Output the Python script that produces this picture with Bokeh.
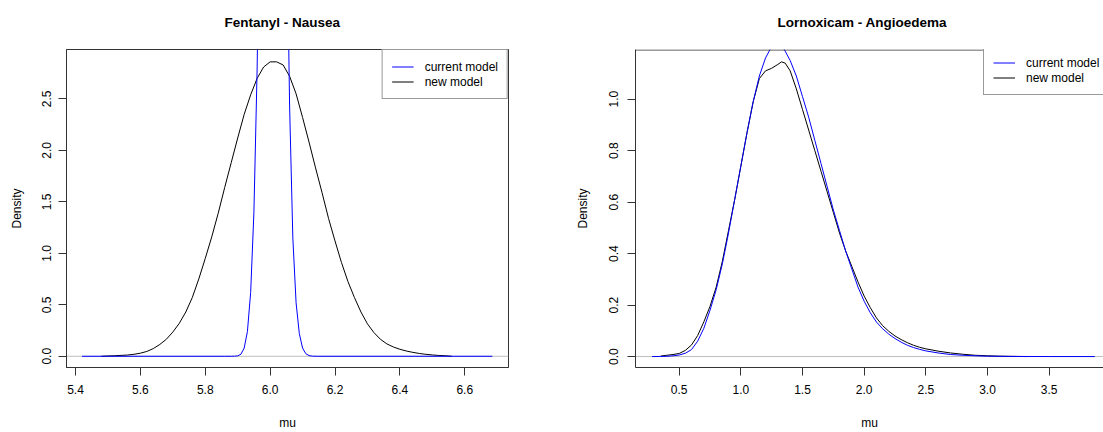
from bokeh.plotting import figure
from bokeh.layouts import row
from bokeh.models import Span, Legend, LegendItem, FixedTicker, Range1d
from bokeh.embed import file_html
from bokeh.resources import INLINE
from bokeh.core.properties import value

FONT = "Liberation Sans"

# ---------------- data: Fentanyl - Nausea ----------------
fent_title = "Fentanyl - Nausea"
fent_mu_new = [5.48, 5.50, 5.52, 5.56, 5.58, 5.60, 5.62, 5.64, 5.66, 5.68, 5.70, 5.72, 5.74, 5.76,
               5.78, 5.80, 5.82, 5.84, 5.86, 5.88, 5.90, 5.92, 5.94, 5.96, 5.98, 6.00, 6.02, 6.04,
               6.06, 6.08, 6.10, 6.12, 6.14, 6.16, 6.18, 6.20, 6.22, 6.24, 6.26, 6.28, 6.30, 6.32,
               6.34, 6.36, 6.38, 6.40, 6.42, 6.44, 6.46, 6.48, 6.50, 6.52, 6.54, 6.56]
fent_dens_new = [0.0, 0.003, 0.005, 0.012, 0.019, 0.030, 0.047, 0.075, 0.115, 0.165, 0.235, 0.32, 0.43, 0.57,
                 0.75, 0.95, 1.16, 1.39, 1.64, 1.88, 2.12, 2.35, 2.54, 2.70, 2.81, 2.86, 2.86, 2.83,
                 2.72, 2.55, 2.32, 2.08, 1.83, 1.59, 1.34, 1.12, 0.91, 0.725, 0.57, 0.43, 0.315, 0.23,
                 0.165, 0.12, 0.09, 0.068, 0.051, 0.038, 0.027, 0.019, 0.013, 0.008, 0.005, 0.0]
fent_mu_cur = [5.42, 5.86, 5.88, 5.89, 5.90, 5.91, 5.92, 5.93, 5.94, 5.95, 5.96, 5.97, 5.98, 5.99,
               6.00, 6.01, 6.02, 6.03, 6.04, 6.05, 6.06, 6.07, 6.08, 6.09, 6.10, 6.11, 6.12, 6.13,
               6.15, 6.685]
fent_dens_cur = [0.0, 0.0, 0.0001, 0.001, 0.004, 0.02, 0.08, 0.24, 0.62, 1.40, 2.80, 5.17, 8.30, 11.6,
                 14.1, 14.9, 13.7, 11.0, 7.6, 4.6, 2.44, 1.15, 0.52, 0.22, 0.08, 0.025, 0.007, 0.001,
                 0.0, 0.0]
fent_xticks = [5.4, 5.6, 5.8, 6.0, 6.2, 6.4, 6.6]
fent_xlabels = ["5.4", "5.6", "5.8", "6.0", "6.2", "6.4", "6.6"]
fent_yticks = [0.0, 0.5, 1.0, 1.5, 2.0, 2.5]
fent_ylabels = ["0.0", "0.5", "1.0", "1.5", "2.0", "2.5"]

# ---------------- data: Lornoxicam - Angioedema ----------------
lorn_title = "Lornoxicam - Angioedema"
lorn_mu_new = [0.35, 0.40, 0.45, 0.50, 0.55, 0.60, 0.65, 0.70, 0.75, 0.80, 0.85, 0.90, 0.95, 1.00,
               1.05, 1.10, 1.15, 1.20, 1.25, 1.30, 1.33, 1.36, 1.40, 1.45, 1.50, 1.55, 1.60, 1.65,
               1.70, 1.75, 1.80, 1.85, 1.90, 1.95, 2.00, 2.05, 2.10, 2.15, 2.20, 2.25, 2.30, 2.35,
               2.40, 2.45, 2.50, 2.60, 2.70, 2.80, 2.90, 3.00, 3.10, 3.20, 3.32]
lorn_dens_new = [0.002, 0.005, 0.008, 0.012, 0.024, 0.045, 0.082, 0.135, 0.195, 0.27, 0.37, 0.49, 0.61, 0.74,
                 0.87, 0.99, 1.08, 1.11, 1.12, 1.135, 1.145, 1.14, 1.11, 1.04, 0.96, 0.88, 0.80, 0.72,
                 0.64, 0.56, 0.48, 0.41, 0.35, 0.29, 0.235, 0.19, 0.15, 0.12, 0.098, 0.08, 0.066, 0.054,
                 0.044, 0.036, 0.03, 0.021, 0.014, 0.009, 0.005, 0.003, 0.0015, 0.0008, 0.0]
lorn_mu_cur = [0.28, 0.35, 0.40, 0.45, 0.50, 0.55, 0.60, 0.65, 0.70, 0.75, 0.80, 0.85, 0.90, 0.95,
               1.00, 1.05, 1.10, 1.15, 1.20, 1.25, 1.30, 1.35, 1.40, 1.45, 1.50, 1.55, 1.60, 1.65,
               1.70, 1.75, 1.80, 1.85, 1.90, 1.95, 2.00, 2.05, 2.10, 2.15, 2.20, 2.25, 2.30, 2.35,
               2.40, 2.45, 2.50, 2.60, 2.70, 2.80, 2.90, 3.00, 3.20, 3.50, 3.87]
lorn_dens_cur = [0.0, 0.0005, 0.001, 0.003, 0.006, 0.013, 0.027, 0.06, 0.11, 0.18, 0.26, 0.36, 0.48, 0.61,
                 0.74, 0.87, 0.99, 1.09, 1.16, 1.205, 1.215, 1.195, 1.15, 1.09, 1.01, 0.93, 0.84, 0.75,
                 0.66, 0.57, 0.49, 0.41, 0.34, 0.27, 0.215, 0.17, 0.134, 0.108, 0.087, 0.07, 0.056, 0.044,
                 0.035, 0.028, 0.022, 0.014, 0.008, 0.005, 0.003, 0.0015, 0.0005, 0.0001, 0.0]
lorn_xticks = [0.5, 1.0, 1.5, 2.0, 2.5, 3.0, 3.5]
lorn_xlabels = ["0.5", "1.0", "1.5", "2.0", "2.5", "3.0", "3.5"]
lorn_yticks = [0.0, 0.2, 0.4, 0.6, 0.8, 1.0]
lorn_ylabels = ["0.0", "0.2", "0.4", "0.6", "0.8", "1.0"]

legend_labels = ["current model", "new model"]
x_title = "mu"
y_title = "Density"

FRAME = "#333333"


def style_axis(ax, ticks, labels, label, label_standoff, tick_standoff, vertical=False):
    ax.ticker = FixedTicker(ticks=ticks)
    ax.major_label_overrides = {t: l for t, l in zip(ticks, labels)}
    ax.minor_tick_line_color = None
    ax.major_tick_in = 0
    ax.major_tick_out = 8
    ax.major_tick_line_color = FRAME
    ax.axis_line_color = FRAME
    ax.major_label_text_font = FONT
    ax.major_label_text_font_size = "12px"
    ax.major_label_text_color = "#000000"
    ax.major_label_standoff = tick_standoff
    if vertical:
        ax.major_label_orientation = "vertical"
    ax.axis_label = label
    ax.axis_label_text_font = FONT
    ax.axis_label_text_font_size = "12px"
    ax.axis_label_text_font_style = "normal"
    ax.axis_label_text_color = "#000000"
    ax.axis_label_standoff = label_standoff


def make_panel(width, bl, br, xr, yr, mu_new, d_new, mu_cur, d_cur, xt, xl, yt, yl,
               title, title_offset, legend_loc, open_right, ytick_standoff, ylab_standoff):
    p = figure(width=width, height=432, x_range=Range1d(*xr), y_range=Range1d(*yr),
               output_backend="svg", toolbar_location=None, title=title + "\n",
               min_border_left=bl, min_border_right=br, min_border_top=49, min_border_bottom=63)
    p.title.text_font = FONT
    p.title.text_font_size = "13.5px"
    p.title.text_font_style = "bold"
    p.title.text_color = "#000000"
    p.title.align = "left"
    p.title.offset = title_offset
    p.title.standoff = 10
    p.grid.visible = False
    p.background_fill_color = "white"
    p.border_fill_color = "white"
    style_axis(p.xaxis[0], xt, xl, x_title, 19, 9)
    style_axis(p.yaxis[0], yt, yl, y_title, ylab_standoff, ytick_standoff, vertical=True)
    if open_right:
        p.outline_line_color = None
        p.add_layout(Span(location=yr[1] - 0.5 * (yr[1] - yr[0]) / 320.0, dimension="width",
                          line_color=FRAME, line_width=1))
    else:
        p.outline_line_color = FRAME
        p.outline_line_alpha = 1.0

    p.add_layout(Span(location=0, dimension="width", line_color="#BEBEBE",
                      line_width=1, level="underlay"))
    r_new = p.line(mu_new, d_new, line_color="black", line_width=1)
    r_cur = p.line(mu_cur, d_cur, line_color="#0000FF", line_width=1)

    leg = Legend(items=[LegendItem(label=value(legend_labels[0]), renderers=[r_cur]),
                        LegendItem(label=value(legend_labels[1]), renderers=[r_new])],
                 location=legend_loc, margin=0, padding=9, spacing=0,
                 glyph_width=22, glyph_height=15, label_height=15, label_standoff=11,
                 label_text_font=FONT, label_text_font_size="12px", label_text_color="#000000",
                 border_line_color=FRAME, border_line_width=1,
                 background_fill_color="white", background_fill_alpha=1.0)
    p.add_layout(leg)
    return p


p1 = make_panel(560, 66, 52, (5.3723, 6.7348), (-0.109, 2.980),
                fent_mu_new, fent_dens_new, fent_mu_cur, fent_dens_cur,
                fent_xticks, fent_xlabels, fent_yticks, fent_ylabels,
                fent_title, 158, "top_right", False, 7, 16)
p2 = make_panel(543, 75, 0, (0.1456, 3.941), (-0.0425, 1.193),
                lorn_mu_new, lorn_dens_new, lorn_mu_cur, lorn_dens_cur,
                lorn_xticks, lorn_xlabels, lorn_yticks, lorn_ylabels,
                lorn_title, 142, (348, 272), True, 9, 17)

layout = row(p1, p2)
open("out.html", "w").write(file_html(layout, INLINE))
